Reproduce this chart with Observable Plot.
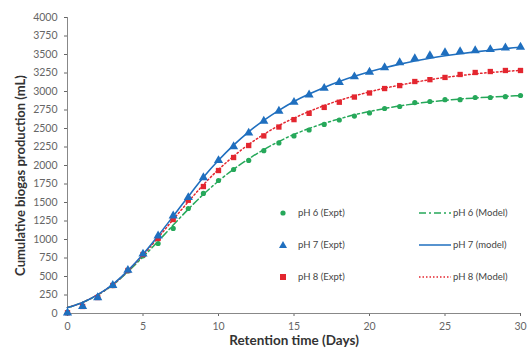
<!DOCTYPE html>
<html>
<head>
<meta charset="utf-8">
<script src="https://cdn.jsdelivr.net/npm/d3@7"></script>
<script src="https://cdn.jsdelivr.net/npm/@observablehq/plot@0.6"></script>
<style>
  html, body { margin: 0; padding: 0; background: #fff; }
  #wrap { position: relative; width: 529px; height: 356px; font-family: Lato, "Open Sans", sans-serif; }
  #legend { position: absolute; left: 0; top: 0; width: 529px; height: 356px; pointer-events: none; }
  .lg { position: absolute; font-size: 9.5px; color: #444; white-space: nowrap; line-height: 12px; }
  .sw { position: absolute; }
</style>
</head>
<body>
<div id="wrap"><div id="chart"></div><div id="legend"></div></div>
<script>
const days = d3.range(0, 31);
const ph6Expt = [10, 95, 216, 378, 575, 780, 946, 1149, 1419, 1622, 1797, 1946, 2068, 2200, 2305, 2400, 2480, 2555, 2615, 2668, 2710, 2770, 2797, 2851, 2865, 2890, 2890, 2919, 2919, 2930, 2946];
const ph7Expt = [10, 95, 216, 380, 585, 805, 1050, 1320, 1568, 1838, 2068, 2255, 2440, 2600, 2735, 2855, 2955, 3045, 3125, 3200, 3262, 3324, 3390, 3446, 3486, 3527, 3540, 3554, 3568, 3590, 3600];
const ph8Expt = [10, 95, 216, 378, 581, 797, 1014, 1270, 1530, 1716, 1932, 2108, 2270, 2400, 2520, 2620, 2705, 2785, 2855, 2925, 2980, 3040, 3080, 3135, 3160, 3190, 3230, 3257, 3270, 3284, 3284];
const ph6Model = [80, 150, 250, 385, 565, 765, 975, 1195, 1410, 1610, 1790, 1950, 2090, 2215, 2325, 2420, 2500, 2570, 2630, 2685, 2730, 2770, 2805, 2835, 2860, 2880, 2898, 2912, 2925, 2935, 2945];
const ph7Model = [80, 150, 255, 395, 580, 800, 1050, 1315, 1580, 1840, 2070, 2275, 2455, 2610, 2745, 2865, 2965, 3055, 3135, 3205, 3268, 3322, 3370, 3412, 3450, 3482, 3510, 3535, 3558, 3580, 3598];
const ph8Model = [80, 150, 255, 390, 575, 790, 1025, 1270, 1510, 1740, 1945, 2125, 2285, 2420, 2540, 2640, 2730, 2810, 2880, 2940, 2995, 3045, 3085, 3125, 3160, 3190, 3215, 3238, 3257, 3272, 3285];
const yTicks = d3.range(0, 4001, 250);
const xTicks = [0, 5, 10, 15, 20, 25, 30];

const green = "#26a85a", blue = "#1f6fbf", red = "#e3262f";
const pts = (arr) => days.map((d, i) => ({x: d, y: arr[i]}));

const chart = Plot.plot({
  width: 529,
  height: 356,
  marginLeft: 67,
  marginRight: 9,
  marginTop: 17,
  marginBottom: 43,
  style: {fontFamily: "Lato, 'Open Sans', sans-serif", fontSize: "10.5px", color: "#666", background: "#fff"},
  x: {domain: [0, 30], ticks: xTicks, tickSize: 3, tickPadding: 6, tickFormat: d3.format("d"), label: null},
  y: {domain: [0, 4000], ticks: yTicks, tickSize: 3, tickPadding: 7, tickFormat: d3.format("d"), label: null},
  marks: [
    Plot.ruleX([0], {stroke: "#888", strokeWidth: 1}),
    Plot.ruleY([0], {stroke: "#888", strokeWidth: 1}),
    Plot.line(pts(ph6Model), {x: "x", y: "y", stroke: green, strokeWidth: 1.5, strokeDasharray: "7,3,2,3", curve: "natural"}),
    Plot.line(pts(ph8Model), {x: "x", y: "y", stroke: red, strokeWidth: 1.5, strokeDasharray: "1.5,2.5", curve: "natural"}),
    Plot.line(pts(ph7Model), {x: "x", y: "y", stroke: blue, strokeWidth: 1.6, curve: "natural"}),
    Plot.dot(pts(ph6Expt), {x: "x", y: "y", symbol: "circle", r: 2.6, fill: green, stroke: "none"}),
    Plot.dot(pts(ph8Expt), {x: "x", y: "y", symbol: "square", r: 3, fill: red, stroke: "none"}),
    Plot.dot(pts(ph7Expt), {x: "x", y: "y", symbol: "triangle", r: 3.4, fill: blue, stroke: "none"}),
    Plot.text(["Retention time (Days)"], {frameAnchor: "bottom", textAnchor: "middle", dy: 31, fontWeight: "bold", fontSize: 13.5, fill: "#333"}),
    Plot.text(["Cumulative biogas production (mL)"], {frameAnchor: "left", textAnchor: "middle", dx: -47, dy: 10, rotate: -90, fontWeight: "bold", fontSize: 13, fill: "#333"})
  ]
});
document.getElementById("chart").appendChild(chart);

// Legend (HTML overlay)
const exptItems = [
  {label: "pH 6 (Expt)", color: green, sym: "circle"},
  {label: "pH 7 (Expt)", color: blue, sym: "triangle"},
  {label: "pH 8 (Expt)", color: red, sym: "square"}
];
const modelItems = [
  {label: "pH 6 (Model)", color: green, dash: "7,3,2,3"},
  {label: "pH 7 (model)", color: blue, dash: null},
  {label: "pH 8 (Model)", color: red, dash: "1.5,2"}
];
const legend = document.getElementById("legend");
const rowY = [213, 245, 277];
exptItems.forEach((it, i) => {
  const s = document.createElementNS("http://www.w3.org/2000/svg", "svg");
  s.setAttribute("width", 12); s.setAttribute("height", 12);
  s.setAttribute("class", "sw");
  s.style.left = "277px"; s.style.top = (rowY[i] - 6) + "px";
  let shape;
  if (it.sym === "circle") shape = `<circle cx="6" cy="6" r="2.6" fill="${it.color}"/>`;
  else if (it.sym === "square") shape = `<rect x="3" y="3" width="6" height="6" fill="${it.color}"/>`;
  else shape = `<path d="M6,2 L10,9 L2,9 Z" fill="${it.color}"/>`;
  s.innerHTML = shape;
  legend.appendChild(s);
  const t = document.createElement("div");
  t.className = "lg"; t.textContent = it.label;
  t.style.left = "298px"; t.style.top = (rowY[i] - 6) + "px";
  legend.appendChild(t);
});
modelItems.forEach((it, i) => {
  const s = document.createElementNS("http://www.w3.org/2000/svg", "svg");
  s.setAttribute("width", 34); s.setAttribute("height", 12);
  s.setAttribute("class", "sw");
  s.style.left = "418px"; s.style.top = (rowY[i] - 6) + "px";
  s.innerHTML = `<line x1="1" y1="6" x2="33" y2="6" stroke="${it.color}" stroke-width="1.5" ${it.dash ? `stroke-dasharray="${it.dash}"` : ""}/>`;
  legend.appendChild(s);
  const t = document.createElement("div");
  t.className = "lg"; t.textContent = it.label;
  t.style.left = "453px"; t.style.top = (rowY[i] - 6) + "px";
  legend.appendChild(t);
});
</script>
</body>
</html>
